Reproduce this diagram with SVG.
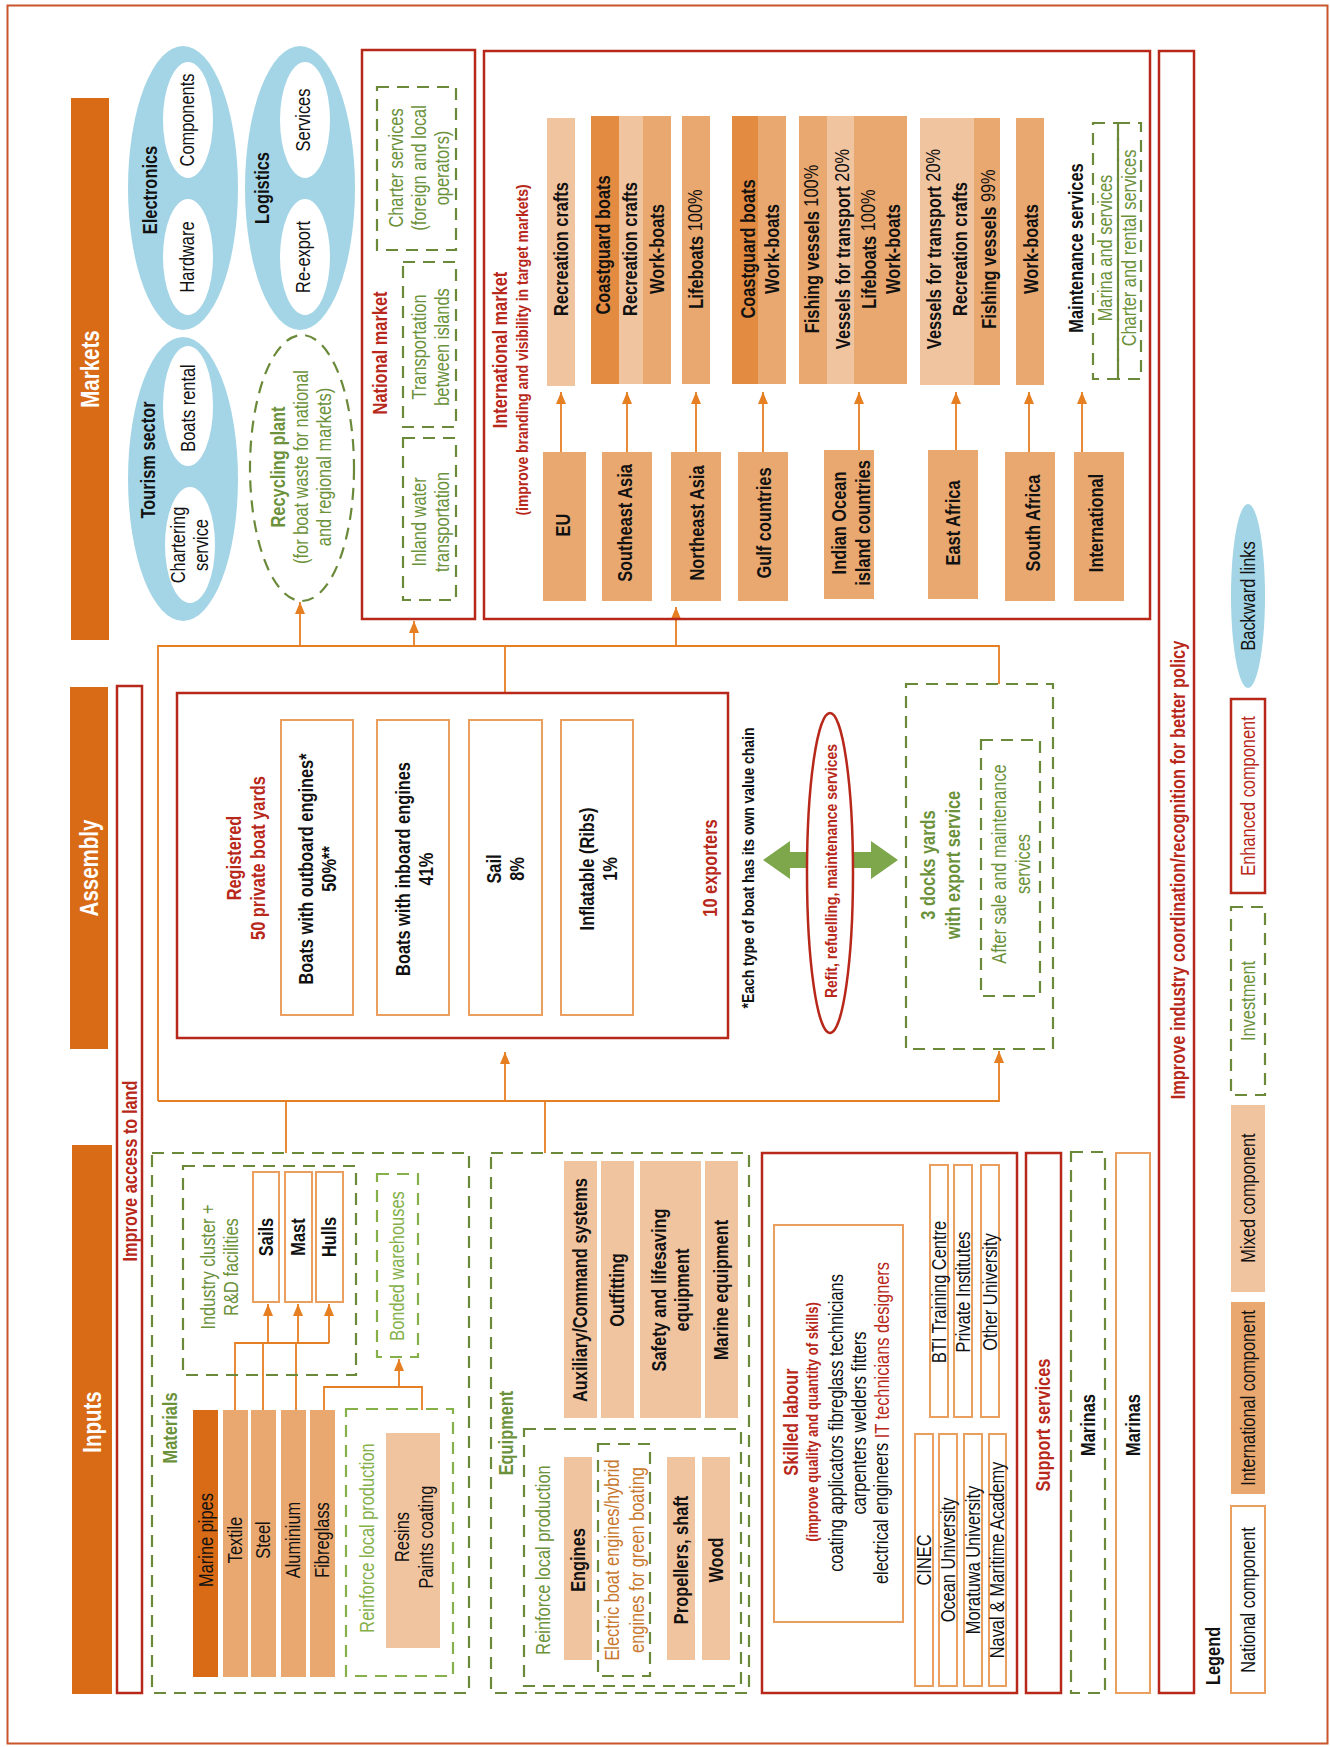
<svg xmlns="http://www.w3.org/2000/svg" width="1330" height="1747" viewBox="0 0 1330 1747">
<defs>
<style>
.t{font-family:"Liberation Sans",Arial,sans-serif;font-size:20px;text-anchor:middle;dominant-baseline:central;fill:#111}
.b{font-weight:bold}
.s16{font-size:16px}
.s17{font-size:17px}
.h{font-size:25px;fill:#fff;font-weight:bold}
.red{fill:#b8281a}
.grn{fill:#6b913a}
.lgrn{fill:#84b04a}
.brn{fill:#c8782e}
.hdr{fill:#d96b16}
.dk{fill:#e38b41}
.md{fill:#e8a870}
.lt{fill:#f1c4a0}
.blue{fill:#a4d5e6}
.wh{fill:#fff}
.redbox{fill:none;stroke:#b8281a;stroke-width:2.5}
.orbox{fill:none;stroke:#eb9f5e;stroke-width:2}
.dash{fill:none;stroke:#6a8a3a;stroke-width:2.2;stroke-dasharray:12 8}
.dashl{fill:none;stroke:#86b04a;stroke-width:2.2;stroke-dasharray:12 8}
.conn{fill:none;stroke:#e67e22;stroke-width:1.8}
</style>
<marker id="ah" viewBox="0 0 12 10" markerWidth="12" markerHeight="10" refX="12" refY="5" orient="auto" markerUnits="userSpaceOnUse">
<path d="M0,0 L12,5 L0,10 z" fill="#e67e22"/>
</marker>
</defs>
<rect x="0" y="0" width="1330" height="1747" fill="#fff"/>
<rect x="7.5" y="5.5" width="1320" height="1738" fill="none" stroke="#c9552b" stroke-width="2"/>

<!-- headers -->
<g id="hdr-markets"><rect class="hdr" x="71" y="98" width="38" height="542"/><text class="t h" transform="translate(90,369) rotate(-90) scale(.82,1)">Markets</text></g>
<g id="hdr-assembly"><rect class="hdr" x="70" y="687" width="38" height="362"/><text class="t h" transform="translate(89,868) rotate(-90) scale(.82,1)">Assembly</text></g>
<g id="hdr-inputs"><rect class="hdr" x="72" y="1145" width="40" height="549"/><text class="t h" transform="translate(92,1422) rotate(-90) scale(.82,1)">Inputs</text></g>

<!-- policy bars -->
<g id="land"><rect class="redbox" x="117" y="686" width="25" height="1007"/><text class="t b red" transform="translate(130,1171) rotate(-90) scale(.82,1)">Improve access to land</text></g>
<g id="policy"><rect class="redbox" x="1159" y="51" width="35" height="1642"/><text class="t b red" transform="translate(1178,870) rotate(-90) scale(.82,1)">Improve industry coordination/recognition for better policy</text></g>

<!-- connectors -->
<g id="connectors">
<path class="conn" d="M158,1101 V646 H999 V684"/>
<path class="conn" d="M158,1101 H999 V1051" marker-end="url(#ah)"/>
<path class="conn" d="M300,646 V602" marker-end="url(#ah)"/>
<path class="conn" d="M414,646 V621" marker-end="url(#ah)"/>
<path class="conn" d="M676,646 V607" marker-end="url(#ah)"/>
<path class="conn" d="M505,693 V646"/>
<path class="conn" d="M505,1101 V1052" marker-end="url(#ah)"/>
<path class="conn" d="M286,1153 V1101"/>
<path class="conn" d="M545,1153 V1101"/>
<path class="conn" d="M561,452 V392" marker-end="url(#ah)"/>
<path class="conn" d="M627,452 V392" marker-end="url(#ah)"/>
<path class="conn" d="M696,452 V392" marker-end="url(#ah)"/>
<path class="conn" d="M763,452 V392" marker-end="url(#ah)"/>
<path class="conn" d="M859,450 V392" marker-end="url(#ah)"/>
<path class="conn" d="M956,450 V392" marker-end="url(#ah)"/>
<path class="conn" d="M1029,452 V392" marker-end="url(#ah)"/>
<path class="conn" d="M1082,452 V392" marker-end="url(#ah)"/>
<path class="conn" d="M235,1410 V1343 H329"/>
<path class="conn" d="M263,1410 V1343"/>
<path class="conn" d="M296,1410 V1343"/>
<path class="conn" d="M268,1343 V1304" marker-end="url(#ah)"/>
<path class="conn" d="M298,1343 V1304" marker-end="url(#ah)"/>
<path class="conn" d="M329,1343 V1304" marker-end="url(#ah)"/>
<path class="conn" d="M324,1410 V1387 H422 V1410"/>
<path class="conn" d="M399,1387 V1359" marker-end="url(#ah)"/>
<polygon id="green-arrow" points="763,860 790,841 790,852 871,852 871,841 898,860 871,879 871,868 790,868 790,879" fill="#7ea64a"/>
</g>

<!-- Markets: backward links -->
<g id="electronics">
<ellipse class="blue" cx="183" cy="188" rx="55" ry="142"/>
<ellipse class="wh" cx="188" cy="120" rx="25" ry="58"/>
<ellipse class="wh" cx="188" cy="257" rx="25" ry="58"/>
<text class="t b" transform="translate(150,190) rotate(-90) scale(.82,1)">Electronics</text>
<text class="t" transform="translate(187,120) rotate(-90) scale(.82,1)">Components</text>
<text class="t" transform="translate(187,257) rotate(-90) scale(.82,1)">Hardware</text>
</g>
<g id="logistics">
<ellipse class="blue" cx="300" cy="188" rx="55" ry="142"/>
<ellipse class="wh" cx="305" cy="120" rx="25" ry="58"/>
<ellipse class="wh" cx="305" cy="257" rx="25" ry="58"/>
<text class="t b" transform="translate(262,188) rotate(-90) scale(.82,1)">Logistics</text>
<text class="t" transform="translate(303,120) rotate(-90) scale(.82,1)">Services</text>
<text class="t" transform="translate(303,257) rotate(-90) scale(.82,1)">Re-export</text>
</g>
<g id="tourism">
<ellipse class="blue" cx="183" cy="479" rx="55" ry="142"/>
<ellipse class="wh" cx="188" cy="406" rx="25" ry="60"/>
<ellipse class="wh" cx="190" cy="545" rx="25" ry="58"/>
<text class="t b" transform="translate(148,460) rotate(-90) scale(.82,1)">Tourism sector</text>
<text class="t" transform="translate(188,408) rotate(-90) scale(.82,1)">Boats rental</text>
<text class="t" transform="translate(177,545) rotate(-90) scale(.82,1)"><tspan x="0" y="0">Chartering</tspan><tspan x="0" y="23">service</tspan></text>
</g>
<g id="recycling">
<ellipse class="dash" cx="302" cy="468" rx="52" ry="133"/>
<text class="t grn" transform="translate(277,467) rotate(-90) scale(.82,1)"><tspan x="0" y="0" class="b">Recycling plant</tspan><tspan x="0" y="23">(for boat waste for national</tspan><tspan x="0" y="46">and regional markets)</tspan></text>
</g>

<!-- National market -->
<g id="national-market">
<rect class="redbox" x="362" y="50" width="113" height="569"/>
<text class="t b red" transform="translate(380,353) rotate(-90) scale(.82,1)">National market</text>
</g>
<g id="charter">
<rect class="dash" x="377" y="87" width="79" height="163"/>
<text class="t grn" transform="translate(395,168) rotate(-90) scale(.82,1)"><tspan x="0" y="0">Charter services</tspan><tspan x="0" y="23">(foreign and local</tspan><tspan x="0" y="46">operators)</tspan></text>
</g>
<g id="transport-islands">
<rect class="dash" x="403" y="262" width="53" height="165"/>
<text class="t grn" transform="translate(418,347) rotate(-90) scale(.82,1)"><tspan x="0" y="0">Transportation</tspan><tspan x="0" y="23">between islands</tspan></text>
</g>
<g id="inland">
<rect class="dash" x="403" y="438" width="53" height="162"/>
<text class="t grn" transform="translate(418,522) rotate(-90) scale(.82,1)"><tspan x="0" y="0">Inland water</tspan><tspan x="0" y="23">transportation</tspan></text>
</g>

<!-- International market -->
<g id="international-market">
<rect class="redbox" x="484" y="51" width="666" height="568"/>
<text class="t b red" transform="translate(500,350) rotate(-90) scale(.82,1)">International market</text>
<text class="t b red s17" transform="translate(522,350) rotate(-90) scale(.82,1)">(improve branding and visibility in target markets)</text>
</g>
<g id="p-eu"><rect class="lt" x="547" y="118" width="28" height="268"/><text class="t b" transform="translate(561,249) rotate(-90) scale(.82,1)">Recreation crafts</text></g>
<g id="p-sea">
<rect class="dk" x="591" y="116" width="28" height="268"/><rect class="lt" x="619" y="116" width="24" height="268"/><rect class="md" x="643" y="116" width="28" height="268"/>
<text class="t b" transform="translate(603,245) rotate(-90) scale(.82,1)">Coastguard boats</text>
<text class="t b" transform="translate(630,249) rotate(-90) scale(.82,1)">Recreation crafts</text>
<text class="t b" transform="translate(657,249) rotate(-90) scale(.82,1)">Work-boats</text>
</g>
<g id="p-nea"><rect class="md" x="682" y="116" width="28" height="268"/><text class="t" transform="translate(695,249) rotate(-90) scale(.82,1)"><tspan class="b">Lifeboats</tspan> 100%</text></g>
<g id="p-gulf">
<rect class="dk" x="732" y="116" width="26" height="268"/><rect class="md" x="758" y="116" width="28" height="268"/>
<text class="t b" transform="translate(748,249) rotate(-90) scale(.82,1)">Coastguard boats</text>
<text class="t b" transform="translate(772,249) rotate(-90) scale(.82,1)">Work-boats</text>
</g>
<g id="p-io">
<rect class="md" x="799" y="116" width="28" height="268"/><rect class="lt" x="827" y="116" width="27" height="268"/><rect class="md" x="854" y="116" width="53" height="268"/>
<text class="t" transform="translate(811,249) rotate(-90) scale(.82,1)"><tspan class="b">Fishing vessels</tspan> 100%</text>
<text class="t" transform="translate(842,249) rotate(-90) scale(.82,1)"><tspan class="b">Vessels for transport</tspan> 20%</text>
<text class="t" transform="translate(868,249) rotate(-90) scale(.82,1)"><tspan class="b">Lifeboats</tspan> 100%</text>
<text class="t b" transform="translate(893,249) rotate(-90) scale(.82,1)">Work-boats</text>
</g>
<g id="p-ea">
<rect class="lt" x="920" y="118" width="54" height="267"/><rect class="md" x="974" y="118" width="26" height="267"/>
<text class="t" transform="translate(933,249) rotate(-90) scale(.82,1)"><tspan class="b">Vessels for transport</tspan> 20%</text>
<text class="t b" transform="translate(960,249) rotate(-90) scale(.82,1)">Recreation crafts</text>
<text class="t" transform="translate(988,249) rotate(-90) scale(.82,1)"><tspan class="b">Fishing vessels</tspan> 99%</text>
</g>
<g id="p-sa"><rect class="md" x="1016" y="118" width="28" height="267"/><text class="t b" transform="translate(1031,249) rotate(-90) scale(.82,1)">Work-boats</text></g>
<g id="p-int">
<text class="t b" transform="translate(1076,248) rotate(-90) scale(.82,1)">Maintenance services</text>
<rect class="dash" x="1093" y="123" width="25" height="256"/>
<rect class="dash" x="1118" y="123" width="23" height="256"/>
<text class="t grn" transform="translate(1105,248) rotate(-90) scale(.82,1)">Marina and services</text>
<text class="t grn" transform="translate(1129,248) rotate(-90) scale(.82,1)">Charter and rental services</text>
</g>
<g id="r-eu"><rect class="md" x="543" y="452" width="43" height="149"/><text class="t b" transform="translate(563,525) rotate(-90) scale(.82,1)">EU</text></g>
<g id="r-sea"><rect class="md" x="602" y="452" width="50" height="149"/><text class="t b" transform="translate(625,523) rotate(-90) scale(.82,1)">Southeast Asia</text></g>
<g id="r-nea"><rect class="md" x="671" y="452" width="50" height="149"/><text class="t b" transform="translate(697,523) rotate(-90) scale(.82,1)">Northeast Asia</text></g>
<g id="r-gulf"><rect class="md" x="738" y="452" width="50" height="149"/><text class="t b" transform="translate(764,523) rotate(-90) scale(.82,1)">Gulf countries</text></g>
<g id="r-io"><rect class="md" x="824" y="450" width="50" height="149"/><text class="t b" transform="translate(838,523) rotate(-90) scale(.82,1)"><tspan x="0" y="0">Indian Ocean</tspan><tspan x="0" y="24">island countries</tspan></text></g>
<g id="r-ea"><rect class="md" x="928" y="450" width="50" height="149"/><text class="t b" transform="translate(953,523) rotate(-90) scale(.82,1)">East Africa</text></g>
<g id="r-sa"><rect class="md" x="1005" y="452" width="50" height="149"/><text class="t b" transform="translate(1033,523) rotate(-90) scale(.82,1)">South Africa</text></g>
<g id="r-int"><rect class="md" x="1074" y="452" width="50" height="149"/><text class="t b" transform="translate(1096,523) rotate(-90) scale(.82,1)">International</text></g>

<!-- Assembly -->
<g id="registered">
<rect class="redbox" x="177" y="693" width="551" height="345"/>
<text class="t b red" transform="translate(233,858) rotate(-90) scale(.82,1)"><tspan x="0" y="0">Registered</tspan><tspan x="0" y="24">50 private boat yards</tspan></text>
<text class="t b red" transform="translate(710,868) rotate(-90) scale(.82,1)">10 exporters</text>
</g>
<g id="b-outboard"><rect class="orbox" x="281" y="720" width="72" height="295"/><text class="t b" transform="translate(305,869) rotate(-90) scale(.82,1)"><tspan x="0" y="0">Boats with outboard engines*</tspan><tspan x="0" y="23">50%**</tspan></text></g>
<g id="b-inboard"><rect class="orbox" x="377" y="720" width="72" height="295"/><text class="t b" transform="translate(402,869) rotate(-90) scale(.82,1)"><tspan x="0" y="0">Boats with inboard engines</tspan><tspan x="0" y="23">41%</tspan></text></g>
<g id="b-sail"><rect class="orbox" x="469" y="720" width="73" height="295"/><text class="t b" transform="translate(493,869) rotate(-90) scale(.82,1)"><tspan x="0" y="0">Sail</tspan><tspan x="0" y="23">8%</tspan></text></g>
<g id="b-inflatable"><rect class="orbox" x="561" y="720" width="72" height="295"/><text class="t b" transform="translate(586,869) rotate(-90) scale(.82,1)"><tspan x="0" y="0">Inflatable (Ribs)</tspan><tspan x="0" y="23">1%</tspan></text></g>
<g id="note"><text class="t b s17" transform="translate(748,868) rotate(-90) scale(.82,1)">*Each type of boat has its own value chain</text></g>
<g id="refit">
<ellipse cx="830" cy="873" rx="23" ry="160" fill="#fff" stroke="#b8281a" stroke-width="2.5"/>
<text class="t b red s17" transform="translate(831,871) rotate(-90) scale(.82,1)">Refit, refuelling, maintenance services</text>
</g>
<g id="docks">
<rect class="dash" x="906" y="684" width="147" height="365"/>
<text class="t b grn" transform="translate(927,865) rotate(-90) scale(.82,1)"><tspan x="0" y="0">3 docks yards</tspan><tspan x="0" y="25">with export service</tspan></text>
<rect class="dash" x="981" y="740" width="59" height="256"/>
<text class="t grn" transform="translate(998,864) rotate(-90) scale(.82,1)"><tspan x="0" y="0">After sale and maintenance</tspan><tspan x="0" y="24">services</tspan></text>
</g>

<!-- Inputs: materials -->
<g id="materials">
<rect class="dash" x="152" y="1153" width="317" height="540"/>
<text class="t b grn" transform="translate(170,1428) rotate(-90) scale(.82,1)">Materials</text>
</g>
<g id="cluster">
<rect class="dash" x="183" y="1166" width="173" height="209"/>
<text class="t grn" transform="translate(207,1267) rotate(-90) scale(.82,1)"><tspan x="0" y="0">Industry cluster +</tspan><tspan x="0" y="23">R&amp;D facilities</tspan></text>
</g>
<g id="sails"><rect class="orbox" x="253" y="1172" width="26" height="130"/><text class="t b" transform="translate(266,1237) rotate(-90) scale(.82,1)">Sails</text></g>
<g id="mast"><rect class="orbox" x="285" y="1172" width="27" height="130"/><text class="t b" transform="translate(298,1237) rotate(-90) scale(.82,1)">Mast</text></g>
<g id="hulls"><rect class="orbox" x="316" y="1172" width="27" height="130"/><text class="t b" transform="translate(329,1237) rotate(-90) scale(.82,1)">Hulls</text></g>
<g id="bonded"><rect class="dashl" x="377" y="1174" width="41" height="183"/><text class="t lgrn" transform="translate(397,1266) rotate(-90) scale(.82,1)">Bonded warehouses</text></g>
<g id="m-pipes"><rect class="hdr" x="193" y="1410" width="25" height="267"/><text class="t" transform="translate(206,1540) rotate(-90) scale(.82,1)">Marine pipes</text></g>
<g id="m-textile"><rect class="md" x="223" y="1410" width="25" height="267"/><text class="t" transform="translate(235,1540) rotate(-90) scale(.82,1)">Textile</text></g>
<g id="m-steel"><rect class="md" x="251" y="1410" width="25" height="267"/><text class="t" transform="translate(263,1540) rotate(-90) scale(.82,1)">Steel</text></g>
<g id="m-alu"><rect class="md" x="281" y="1410" width="25" height="267"/><text class="t" transform="translate(293,1540) rotate(-90) scale(.82,1)">Aluminium</text></g>
<g id="m-fibre"><rect class="md" x="310" y="1410" width="25" height="267"/><text class="t" transform="translate(322,1540) rotate(-90) scale(.82,1)">Fibreglass</text></g>
<g id="m-reinforce">
<rect class="dashl" x="346" y="1409" width="107" height="267"/>
<text class="t lgrn" transform="translate(367,1538) rotate(-90) scale(.82,1)">Reinforce local production</text>
<rect class="lt" x="386" y="1433" width="54" height="215"/>
<text class="t" transform="translate(401,1537) rotate(-90) scale(.82,1)"><tspan x="0" y="0">Resins</tspan><tspan x="0" y="24">Paints coating</tspan></text>
</g>

<!-- Inputs: equipment -->
<g id="equipment">
<rect class="dash" x="491" y="1153" width="258" height="540"/>
<text class="t b grn" transform="translate(506,1433) rotate(-90) scale(.82,1)">Equipment</text>
</g>
<g id="e-aux"><rect class="lt" x="564" y="1161" width="33" height="257"/><text class="t b" transform="translate(580,1290) rotate(-90) scale(.82,1)">Auxiliary/Command systems</text></g>
<g id="e-outfit"><rect class="lt" x="601" y="1161" width="33" height="257"/><text class="t b" transform="translate(617,1290) rotate(-90) scale(.82,1)">Outfitting</text></g>
<g id="e-safety"><rect class="lt" x="640" y="1161" width="61" height="257"/><text class="t b" transform="translate(658,1290) rotate(-90) scale(.82,1)"><tspan x="0" y="0">Safety and lifesaving</tspan><tspan x="0" y="23">equipment</tspan></text></g>
<g id="e-marine"><rect class="lt" x="705" y="1161" width="33" height="257"/><text class="t b" transform="translate(721,1290) rotate(-90) scale(.82,1)">Marine equipment</text></g>
<g id="e-reinforce">
<rect class="dash" x="524" y="1429" width="217" height="257"/>
<text class="t grn" transform="translate(543,1560) rotate(-90) scale(.82,1)">Reinforce local production</text>
</g>
<g id="e-engines"><rect class="lt" x="564" y="1457" width="28" height="203"/><text class="t b" transform="translate(578,1560) rotate(-90) scale(.82,1)">Engines</text></g>
<g id="e-electric"><rect class="dash" x="598" y="1444" width="52" height="232"/><text class="t brn" transform="translate(611,1560) rotate(-90) scale(.82,1)"><tspan x="0" y="0">Electric boat engines/hybrid</tspan><tspan x="0" y="25">engines for green boating</tspan></text></g>
<g id="e-prop"><rect class="lt" x="667" y="1457" width="28" height="203"/><text class="t b" transform="translate(681,1560) rotate(-90) scale(.82,1)">Propellers, shaft</text></g>
<g id="e-wood"><rect class="lt" x="702" y="1457" width="28" height="203"/><text class="t b" transform="translate(716,1560) rotate(-90) scale(.82,1)">Wood</text></g>

<!-- Inputs: skilled labour -->
<g id="skilled">
<rect class="redbox" x="762" y="1153" width="255" height="540"/>
<rect class="orbox" x="774" y="1225" width="129" height="397"/>
<text class="t b red" transform="translate(791,1422) rotate(-90) scale(.82,1)">Skilled labour</text>
<text class="t b red s16" transform="translate(813,1422) rotate(-90) scale(.82,1)">(improve quality and quantity of skills)</text>
<text class="t" transform="translate(836,1423) rotate(-90) scale(.82,1)">coating applicators fibreglass technicians</text>
<text class="t" transform="translate(859,1423) rotate(-90) scale(.82,1)">carpenters welders fitters</text>
<text class="t" transform="translate(881,1423) rotate(-90) scale(.82,1)">electrical engineers <tspan class="red">IT technicians designers</tspan></text>
</g>
<g id="i-cinec"><rect class="orbox" x="915" y="1434" width="18" height="252"/><text class="t" transform="translate(924,1560) rotate(-90) scale(.82,1)">CINEC</text></g>
<g id="i-ocean"><rect class="orbox" x="939" y="1434" width="18" height="252"/><text class="t" transform="translate(948,1560) rotate(-90) scale(.82,1)">Ocean University</text></g>
<g id="i-moratuwa"><rect class="orbox" x="964" y="1434" width="18" height="252"/><text class="t" transform="translate(973,1560) rotate(-90) scale(.82,1)">Moratuwa University</text></g>
<g id="i-naval"><rect class="orbox" x="989" y="1434" width="17" height="252"/><text class="t" transform="translate(997,1560) rotate(-90) scale(.82,1)">Naval &amp; Maritime Academy</text></g>
<g id="i-bti"><rect class="orbox" x="930" y="1165" width="18" height="252"/><text class="t" transform="translate(939,1292) rotate(-90) scale(.82,1)">BTI Training Centre</text></g>
<g id="i-private"><rect class="orbox" x="954" y="1165" width="18" height="252"/><text class="t" transform="translate(963,1292) rotate(-90) scale(.82,1)">Private Institutes</text></g>
<g id="i-other"><rect class="orbox" x="981" y="1165" width="18" height="252"/><text class="t" transform="translate(990,1292) rotate(-90) scale(.82,1)">Other University</text></g>

<!-- support services -->
<g id="support"><rect class="redbox" x="1026" y="1153" width="35" height="540"/><text class="t b red" transform="translate(1043,1425) rotate(-90) scale(.82,1)">Support services</text></g>
<g id="marinas-inv"><rect class="dash" x="1071" y="1152" width="34" height="541"/><text class="t b" transform="translate(1088,1425) rotate(-90) scale(.82,1)">Marinas</text></g>
<g id="marinas"><rect class="orbox" x="1116" y="1153" width="34" height="540"/><text class="t b" transform="translate(1133,1425) rotate(-90) scale(.82,1)">Marinas</text></g>

<!-- legend -->
<g id="legend">
<text class="t b" style="text-anchor:start" transform="translate(1213,1685) rotate(-90) scale(.82,1)">Legend</text>
<rect class="orbox" x="1231" y="1506" width="34" height="187"/><text class="t" transform="translate(1248,1600) rotate(-90) scale(.82,1)">National component</text>
<rect class="md" x="1231" y="1302" width="34" height="192"/><text class="t" transform="translate(1248,1398) rotate(-90) scale(.82,1)">International component</text>
<rect class="lt" x="1231" y="1105" width="34" height="187"/><text class="t" transform="translate(1248,1198) rotate(-90) scale(.82,1)">Mixed component</text>
<rect class="dash" x="1231" y="907" width="34" height="188"/><text class="t grn" transform="translate(1248,1001) rotate(-90) scale(.82,1)">Investment</text>
<rect class="redbox" x="1231" y="699" width="34" height="194"/><text class="t red" transform="translate(1248,796) rotate(-90) scale(.82,1)">Enhanced component</text>
<ellipse class="blue" cx="1248" cy="596" rx="17" ry="92"/><text class="t" transform="translate(1248,596) rotate(-90) scale(.82,1)">Backward links</text>
</g>
</svg>
